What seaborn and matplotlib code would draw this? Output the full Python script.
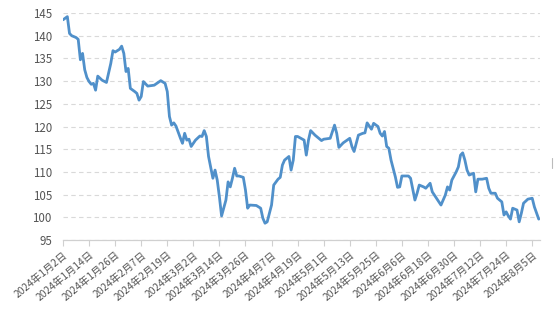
import matplotlib
matplotlib.use("Agg")
import matplotlib.pyplot as plt
import seaborn as sns
import pandas as pd
from matplotlib.lines import Line2D

dates = [
    "2024-01-02", "2024-01-04", "2024-01-05", "2024-01-06", "2024-01-07", "2024-01-08",
    "2024-01-09", "2024-01-10", "2024-01-11", "2024-01-12", "2024-01-13", "2024-01-14",
    "2024-01-15", "2024-01-16", "2024-01-17", "2024-01-18", "2024-01-20", "2024-01-22",
    "2024-01-24", "2024-01-25", "2024-01-26", "2024-01-28", "2024-01-29", "2024-01-30",
    "2024-01-31", "2024-02-01", "2024-02-02", "2024-02-04", "2024-02-05", "2024-02-06",
    "2024-02-07", "2024-02-08", "2024-02-10", "2024-02-13", "2024-02-16", "2024-02-18",
    "2024-02-19", "2024-02-20", "2024-02-21", "2024-02-22", "2024-02-23", "2024-02-25",
    "2024-02-26", "2024-02-27", "2024-02-28", "2024-02-29", "2024-03-01", "2024-03-03",
    "2024-03-05", "2024-03-06", "2024-03-07", "2024-03-08", "2024-03-09", "2024-03-11",
    "2024-03-12", "2024-03-13", "2024-03-14", "2024-03-15", "2024-03-17", "2024-03-18",
    "2024-03-19", "2024-03-20", "2024-03-21", "2024-03-22", "2024-03-23", "2024-03-25",
    "2024-03-26", "2024-03-27", "2024-03-28", "2024-03-31", "2024-04-02", "2024-04-03",
    "2024-04-04", "2024-04-05", "2024-04-07", "2024-04-08", "2024-04-10", "2024-04-11",
    "2024-04-12", "2024-04-13", "2024-04-15", "2024-04-16", "2024-04-17", "2024-04-18",
    "2024-04-19", "2024-04-22", "2024-04-23", "2024-04-24", "2024-04-25", "2024-04-27",
    "2024-04-30", "2024-05-01", "2024-05-04", "2024-05-06", "2024-05-07", "2024-05-08",
    "2024-05-10", "2024-05-13", "2024-05-14", "2024-05-15", "2024-05-17", "2024-05-19",
    "2024-05-20", "2024-05-21", "2024-05-22", "2024-05-23", "2024-05-24", "2024-05-26",
    "2024-05-27", "2024-05-28", "2024-05-29", "2024-05-30", "2024-05-31", "2024-06-01",
    "2024-06-03", "2024-06-04", "2024-06-05", "2024-06-06", "2024-06-09", "2024-06-10",
    "2024-06-12", "2024-06-13", "2024-06-14", "2024-06-16", "2024-06-17", "2024-06-19",
    "2024-06-20", "2024-06-23", "2024-06-24", "2024-06-26", "2024-06-27", "2024-06-28",
    "2024-06-29", "2024-07-01", "2024-07-02", "2024-07-03", "2024-07-04", "2024-07-05",
    "2024-07-06", "2024-07-07", "2024-07-09", "2024-07-10", "2024-07-11", "2024-07-13",
    "2024-07-15", "2024-07-16", "2024-07-17", "2024-07-19", "2024-07-20", "2024-07-22",
    "2024-07-23", "2024-07-24", "2024-07-25", "2024-07-26", "2024-07-27", "2024-07-29",
    "2024-07-30", "2024-07-31", "2024-08-01", "2024-08-03", "2024-08-05", "2024-08-06",
    "2024-08-08",
]

values = [
    143.5, 144.2, 140.5, 140.0, 139.8, 139.6,
    139.2, 134.7, 136.1, 132.5, 130.8, 129.9,
    129.3, 129.5, 128.0, 131.1, 130.2, 129.7,
    133.9, 136.7, 136.4, 137.0, 137.7, 136.1,
    132.1, 132.8, 128.4, 127.7, 127.3, 125.8,
    126.6, 129.9, 128.9, 129.1, 130.1, 129.5,
    127.7, 122.2, 120.3, 120.8, 120.1, 117.5,
    116.3, 118.5, 117.0, 117.2, 115.6, 117.0,
    117.9, 117.8, 119.1, 117.8, 113.4, 108.6,
    110.4, 108.2, 104.5, 100.3, 103.8, 107.8,
    106.7, 108.6, 110.8, 109.1, 109.1, 108.8,
    106.0, 102.0, 102.7, 102.6, 102.0, 99.8,
    98.7, 99.0, 102.7, 107.1, 108.4, 108.8,
    111.5, 112.6, 113.4, 110.4, 112.6, 117.8,
    117.8, 117.0, 113.7, 117.0, 119.1, 118.1,
    116.9, 117.2, 117.4, 120.3, 118.5, 115.4,
    116.4, 117.4, 115.6, 114.5, 118.1, 118.5,
    118.6, 120.8, 120.1, 119.4, 120.7, 120.0,
    118.5, 117.9, 118.9, 115.6, 115.2, 112.6,
    108.9, 106.6, 106.7, 109.1, 109.1, 108.6,
    103.8, 105.3, 107.1, 106.7, 106.4, 107.5,
    105.6, 103.4, 102.7, 104.9, 106.7, 106.0,
    108.2, 110.0, 111.1, 113.7, 114.2, 112.6,
    110.4, 109.3, 109.7, 105.6, 108.4, 108.4,
    108.6, 106.4, 105.3, 105.3, 104.2, 103.4,
    100.5, 101.2, 100.3, 99.6, 102.0, 101.6,
    99.0, 100.9, 103.1, 104.0, 104.2, 102.3,
    99.6,
]

tick_start = "2024-01-02"
tick_end = "2024-08-05"
tick_step_days = 12
y_ticks = [95, 100, 105, 110, 115, 120, 125, 130, 135, 140, 145]

df = pd.DataFrame({"date": pd.to_datetime(dates), "value": values})

sns.set_theme(style="white")
plt.rcParams["font.family"] = ["Noto Sans CJK SC", "DejaVu Sans"]

fig = plt.figure(figsize=(5.54, 3.19), dpi=100)
ax = fig.add_axes([63 / 554, 1 - 240 / 319, (540 - 63) / 554, (240 - 13) / 319])

sns.lineplot(data=df, x="date", y="value", ax=ax, color="#5090CA",
             linewidth=2.0, solid_joinstyle="round", solid_capstyle="round")

ax.set_ylim(95, 145)
ax.set_yticks(y_ticks)
ax.set_xlim(pd.Timestamp("2024-01-02"), pd.Timestamp("2024-08-08") + pd.Timedelta(hours=14))

tick_dates = pd.date_range(tick_start, tick_end, freq=f"{tick_step_days}D")
ax.set_xticks(tick_dates)
ax.set_xticklabels([f"{d.year}年{d.month}月{d.day}日" for d in tick_dates],
                   rotation=40, ha="right", va="top", rotation_mode="anchor")

ax.set_xlabel("")
ax.set_ylabel("")
for s in ["top", "right", "left"]:
    ax.spines[s].set_visible(False)
ax.spines["bottom"].set_color("#d0d0d0")
ax.spines["bottom"].set_linewidth(0.9)

ax.grid(axis="y", color="#d9d9d9", linestyle=(0, (4, 3)), linewidth=0.8)
ax.grid(axis="x", visible=False)
ax.set_axisbelow(True)

ax.tick_params(axis="x", which="major", bottom=True, length=4, width=0.8,
               color="#d0d0d0", labelsize=7.4, labelcolor="#555555", pad=3)
ax.tick_params(axis="y", left=False, labelsize=8.3, labelcolor="#555555", pad=2)

fig.add_artist(Line2D([552 / 554, 552 / 554], [1 - 168 / 319, 1 - 158 / 319],
                      color="#bbbbbb", linewidth=0.8))

fig.savefig("out.png", dpi=100)
